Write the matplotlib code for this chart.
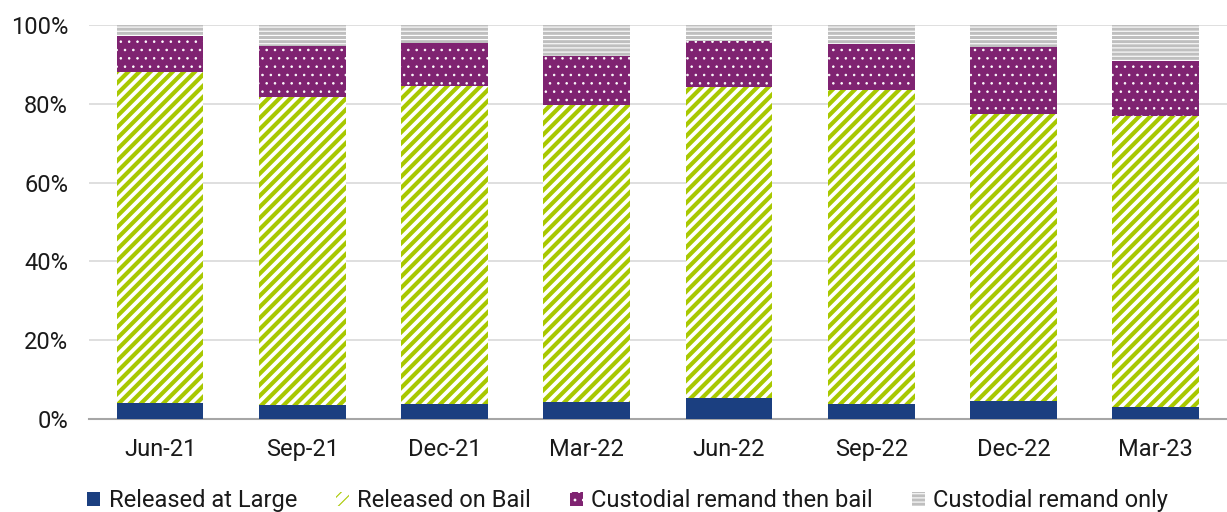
import numpy as np
import matplotlib
matplotlib.use('Agg')
import matplotlib.pyplot as plt
from matplotlib.ticker import PercentFormatter

plt.rcParams['font.family'] = ['Roboto', 'DejaVu Sans']

quarters = ['Jun-21', 'Sep-21', 'Dec-21', 'Mar-22', 'Jun-22', 'Sep-22', 'Dec-22', 'Mar-23']
at_large = [4.1, 3.6, 3.8, 4.3, 5.3, 3.8, 4.6, 3.0]
on_bail = [84.0, 78.1, 80.7, 75.4, 79.0, 79.7, 72.8, 73.9]
remand_then_bail = [9.1, 13.0, 10.9, 12.4, 11.6, 11.7, 17.0, 14.0]
remand_only = [2.8, 5.3, 4.6, 7.9, 4.1, 4.8, 5.6, 9.1]

# (label, values, bar style, hatch line width)
series = [
    ('Released at Large', at_large, dict(color='#1b3f80'), None),
    ('Released on Bail', on_bail, dict(facecolor='white', edgecolor='#a8c800', hatch='///'), 3.0),
    ('Custodial remand then bail', remand_then_bail, dict(facecolor='#7f2371', edgecolor='white', hatch='..'), 0.6),
    ('Custodial remand only', remand_only, dict(facecolor='#bfbfbf', edgecolor='white', hatch='----'), 0.8),
]

fig = plt.figure(figsize=(12.27, 5.12), dpi=100)
ax = fig.add_axes([0.0725, 0.1816, 0.9275, 0.7694])

x = np.arange(len(quarters))
bottom = np.zeros(len(quarters))
for name, vals, style, hw in series:
    if hw is not None:
        plt.rcParams['hatch.linewidth'] = hw
    share = np.array(vals) / 100
    bars = ax.bar(x, share, 0.61, bottom=bottom, label=name,
                  linewidth=0, zorder=3, **style)
    if hw is not None:
        for b in bars:
            if hasattr(b, 'set_hatch_linewidth'):
                b.set_hatch_linewidth(hw)
    bottom += share

ax.set_xlim(-0.5, len(quarters) - 0.5)
ax.set_ylim(0, 1)
ax.set_yticks(np.arange(0, 1.01, 0.2))
ax.yaxis.set_major_formatter(PercentFormatter(1.0, decimals=0))
ax.set_xticks(x)
ax.set_xticklabels(quarters)
ax.tick_params(axis='y', length=0, pad=15, labelsize=17, labelcolor='#1a1a1a')
ax.tick_params(axis='x', length=0, pad=13.5, labelsize=17, labelcolor='#1a1a1a')
ax.grid(axis='y', color='#d9d9d9', linewidth=1.2, zorder=0)
for side in ['top', 'right', 'left']:
    ax.spines[side].set_visible(False)
ax.spines['bottom'].set_color('#a6a6a6')
ax.spines['bottom'].set_linewidth(1.5)

fig.legend(loc='lower center', bbox_to_anchor=(0.5115, -0.042), ncol=4, frameon=False,
           fontsize=17, handlelength=0.55, handleheight=0.55, handletextpad=0.35,
           columnspacing=1.65, labelcolor='#1a1a1a')

fig.savefig('out.png', dpi=100)
